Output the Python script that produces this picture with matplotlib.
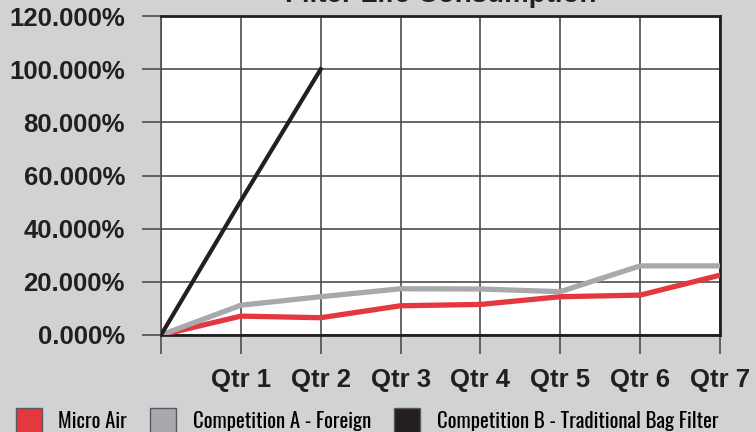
import matplotlib.pyplot as plt
from matplotlib.patches import Patch

# data
quarters = ['', 'Qtr 1', 'Qtr 2', 'Qtr 3', 'Qtr 4', 'Qtr 5', 'Qtr 6', 'Qtr 7']
micro_air = [0.0, 7.1, 6.5, 11.0, 11.5, 14.4, 15.0, 22.5]
comp_a = [0.0, 11.2, 14.4, 17.4, 17.3, 16.3, 26.0, 26.0]
comp_b = [0.0, 50.5, 100.0]
series_names = ['Micro Air', 'Competition A - Foreign', 'Competition B - Traditional Bag Filter']
y_ticks = [0, 20, 40, 60, 80, 100, 120]

red = '#e5373f'
grey = '#a7a9ac'
black = '#231f20'
bg = '#d1d2d4'

tick_font = ['Liberation Sans', 'DejaVu Sans']
narrow_font = ['Oswald', 'Pathway Gothic One', 'Saira ExtraCondensed', 'Liberation Sans', 'DejaVu Sans']

fig = plt.figure(figsize=(7.56, 4.32), dpi=100, facecolor=bg)
ax = fig.add_axes([161 / 756, 1 - 335 / 432, (720 - 161) / 756, (335 - 16) / 432])
ax.set_facecolor('white')

x = list(range(len(quarters)))
ax.plot(x, micro_air, color=red, lw=3.8, solid_joinstyle='miter', zorder=3)
ax.plot(x, comp_a, color=grey, lw=3.8, solid_joinstyle='miter', zorder=3)
ax.plot(x[:len(comp_b)], comp_b, color=black, lw=3.0, zorder=4)

ax.set_xlim(0, 7)
ax.set_ylim(0, 120)
ax.set_xticks(x)
ax.set_xticklabels(quarters)
ax.set_yticks(y_ticks)
ax.set_yticklabels(['%.3f%%' % v for v in y_ticks])

ax.grid(True, color='#4d4d4f', lw=1.2, zorder=1)
ax.tick_params(axis='both', length=14, width=1.2, color='#4d4d4f')
ax.tick_params(axis='y', pad=12)
ax.tick_params(axis='x', pad=10)
for lab in ax.get_xticklabels() + ax.get_yticklabels():
    lab.set_family(tick_font)
    lab.set_fontweight('bold')
    lab.set_fontsize(18.5)
    lab.set_color('#231f20')

for side in ['top', 'right', 'bottom']:
    ax.spines[side].set_color('#231f20')
    ax.spines[side].set_linewidth(2)
ax.spines['left'].set_color('#4d4d4f')
ax.spines['left'].set_linewidth(1.2)

fig.text((161 + 720) / 2 / 756, 1 - 2.5 / 432, 'Filter Life Consumption',
         ha='center', va='baseline', family=tick_font, fontweight='bold',
         fontsize=20, color='#231f20')

handles = [Patch(facecolor=c, edgecolor='#58595b', lw=1) for c in [red, grey, black]]
fig.legend(handles, series_names, loc='lower left', bbox_to_anchor=(-0.004, -0.05),
           ncol=3, frameon=False, handlelength=1.25, handleheight=1.6,
           handletextpad=0.8, columnspacing=1.1,
           prop={'family': narrow_font, 'weight': 'medium', 'size': 15})

fig.savefig('out.png', dpi=100, facecolor=bg)
